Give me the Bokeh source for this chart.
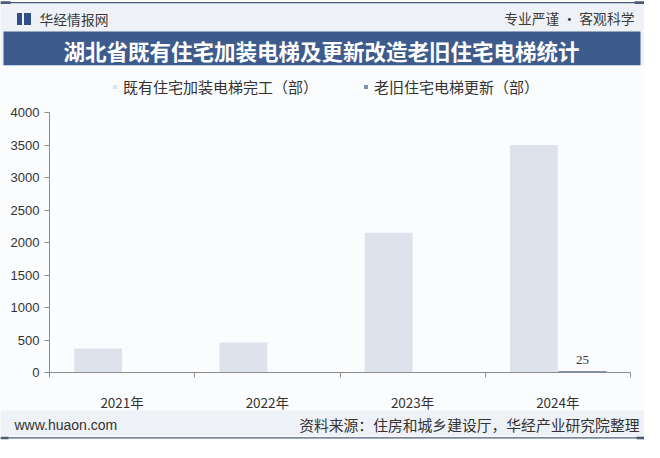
import numpy as np
from bokeh.plotting import figure
from bokeh.models import (ColumnDataSource, Range1d, FixedTicker, Legend, LegendItem,
                          Label, LabelSet, BoxAnnotation)
from bokeh.transform import dodge
from bokeh.embed import file_html
from bokeh.resources import INLINE

# ---------------- data ----------------
years = ["2021年", "2022年", "2023年", "2024年"]
installed = [370, 460, 2150, 3500]          # 既有住宅加装电梯完工（部）
renewed = [np.nan, np.nan, np.nan, 25]      # 老旧住宅电梯更新（部）
series_names = ["既有住宅加装电梯完工（部）", "老旧住宅电梯更新（部）"]
y_ticks = [0, 500, 1000, 1500, 2000, 2500, 3000, 3500, 4000]
y_max = 4000
title_text = "湖北省既有住宅加装电梯及更新改造老旧住宅电梯统计"
brand_text = "华经情报网"
slogan_text = "专业严谨 • 客观科学"
site_text = "www.huaon.com"
source_text = "资料来源：住房和城乡建设厅，华经产业研究院整理"

# ---------------- layout (canvas pixels) ----------------
W, H = 644, 442
AL, AR, AT, AB = 49, 630, 112, 372      # chart axes box on the canvas
n = len(years)
xu = (AR - AL) / n                      # pixels per category
yu = (AB - AT) / y_max                  # pixels per unit
x_range = Range1d(-AL / xu, n + (W - AR) / xu)
y_range = Range1d(-(H - AB) / yu, y_max + AT / yu)

CJK = "Noto Sans CJK SC"
LAT = "Liberation Sans"
DARK = "#4a5c78"
BAND = "#3d5b8c"
HEAD_BG = "#eef2f7"
FOOT_BG = "#eef1f6"
CHART_BG = "#fbfcfe"
C1 = "#dde2ec"
C2 = "#7d91b3"
AXIS = "#8c8c8c"
TXT = "#333333"

p = figure(width=W, height=H, x_range=x_range, y_range=y_range, min_border=0,
           toolbar_location=None, output_backend="svg")
p.background_fill_color = CHART_BG
p.border_fill_color = CHART_BG
p.outline_line_color = None
p.xgrid.visible = False
p.ygrid.visible = False


def box(x0, x1, y0, y1, color):
    """decorative rectangle given in canvas pixels (y down)"""
    p.add_layout(BoxAnnotation(left=x0, right=x1, top=H - y0, bottom=H - y1,
                               left_units="screen", right_units="screen",
                               top_units="screen", bottom_units="screen",
                               fill_color=color, fill_alpha=1, line_color=None,
                               level="underlay"))


def label(x, y, text, font, size, color=TXT, align="left", bold=False):
    p.add_layout(Label(x=x, y=H - y, x_units="screen", y_units="screen", text=text,
                       text_font=font, text_font_size=size, text_color=color,
                       text_align=align, text_baseline="middle",
                       text_font_style="bold" if bold else "normal"))


# header
box(0, W, 0, 31, HEAD_BG)
box(0, W, 0, 1.3, "#ffffff")
box(0, W, 1.6, 2.8, DARK)
box(0, 10, 0.8, 3.6, DARK)
box(634, W, 0.8, 3.6, DARK)
box(16.5, 21.5, 12.5, 24.5, "#2f4f86")
box(23.5, 30.5, 12.5, 24.5, "#2f4f86")
box(0, W, 31, 64.7, HEAD_BG)
box(3, 640, 31, 64.7, BAND)
label(39, 18.3, brand_text, CJK, "13.8px", "#3a3a3a")
label(634, 17.6, slogan_text, CJK, "13.8px", "#3a3a3a", align="right")
label(321, 49.5, title_text, CJK, "21.5px", "#ffffff", align="center", bold=True)

# footer
box(0, W, 410, 436, FOOT_BG)
box(0, W, 436, H, "#ffffff")
box(0, W, 436.8, 438, DARK)
box(0, 8, 436.2, 438.8, DARK)
box(636, W, 436.2, 438.8, DARK)
label(14, 424, site_text, LAT, "14px")
label(639, 424, source_text, CJK, "14.8px", align="right")

# ---------------- bars ----------------
xs = [i + 0.5 for i in range(n)]
src = ColumnDataSource(dict(x=xs, year=years, installed=installed, renewed=renewed))
r1 = p.vbar(x=dodge("x", -0.165), top="installed", width=0.33, source=src,
            fill_color=C1, line_color=None)
r2 = p.vbar(x=dodge("x", 0.17), top="renewed", width=0.33, source=src,
            fill_color=C2, line_color=None)

lab_idx = [i for i, v in enumerate(renewed) if np.isfinite(v)]
lab_src = ColumnDataSource(dict(x=[xs[i] for i in lab_idx],
                                y=[renewed[i] for i in lab_idx],
                                t=[f"{renewed[i]:g}" for i in lab_idx]))
p.add_layout(LabelSet(x=dodge("x", 0.17), y="y", text="t", source=lab_src,
                      text_align="center", text_baseline="bottom", y_offset=7,
                      text_font=LAT, text_font_size="13px", text_color=TXT))

# x axis: labels in category centres, tick marks at category borders
xa = p.xaxis[0]
xa.fixed_location = 0
xa.bounds = (0, n)
xa.ticker = FixedTicker(ticks=xs, minor_ticks=list(range(n + 1)))
xa.major_label_overrides = {x: y for x, y in zip(xs, years)}
xa.major_tick_line_color = None
xa.major_tick_out = 0
xa.major_tick_in = 0
xa.minor_tick_line_color = AXIS
xa.minor_tick_out = 5
xa.minor_tick_in = 0
xa.axis_line_color = AXIS
xa.major_label_standoff = 14
xa.major_label_text_font = CJK
xa.major_label_text_font_size = "13.5px"
xa.major_label_text_color = TXT

ya = p.yaxis[0]
ya.fixed_location = 0
ya.bounds = (0, y_max)
ya.ticker = FixedTicker(ticks=y_ticks, minor_ticks=[])
ya.axis_line_color = AXIS
ya.major_tick_line_color = AXIS
ya.major_tick_out = 5
ya.major_tick_in = 0
ya.minor_tick_line_color = None
ya.major_label_standoff = 5
ya.major_label_text_font = LAT
ya.major_label_text_font_size = "13px"
ya.major_label_text_color = TXT

legend = Legend(items=[LegendItem(label=series_names[0], renderers=[r1]),
                       LegendItem(label=series_names[1], renderers=[r2])],
                orientation="horizontal", location=(112, H - 97),
                glyph_width=5, glyph_height=5, label_standoff=6, spacing=45,
                padding=0, margin=0, background_fill_alpha=0, border_line_color=None,
                label_text_font=CJK, label_text_font_size="15px", label_text_color=TXT)
p.add_layout(legend, "center")

open("out.html", "w").write(file_html(p, INLINE))
